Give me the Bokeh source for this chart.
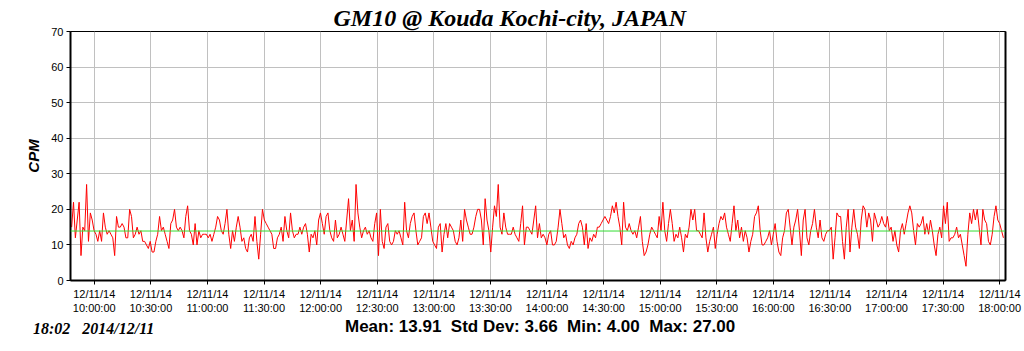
import pandas as pd
from bokeh.plotting import figure
from bokeh.layouts import column
from bokeh.models import Range1d, FixedTicker, DatetimeTickFormatter, Span, Div, LinearAxis
from bokeh.embed import file_html
from bokeh.resources import INLINE

# ---- data (CPM, one reading per minute) ----
cpm = (
    [15, 22, 12, 17, 22, 7, 15, 14, 27, 11, 19, 17, 14, 13, 11, 14, 11, 19, 15, 13, 14, 13,
     12, 7, 18, 15, 15, 16, 15, 12, 12, 20, 18, 12, 13, 15, 13, 14, 11, 11, 10, 9, 11, 8]
    + [8, 11, 13, 18, 14, 15, 13, 11, 9, 16, 17, 20, 15, 14, 15, 14, 12, 18, 21, 14, 13, 10,
       16, 10, 14, 12, 13, 13, 13, 12, 13, 11, 13, 15, 18, 17, 14, 13, 16, 20, 13, 9, 14, 11, 15]
    + [18, 15, 11, 12, 9, 8, 12, 13, 11, 18, 11, 6, 13, 20, 17, 16, 15, 14, 13, 9, 9, 12, 13,
       15, 11, 18, 14, 12, 19, 14, 12, 13, 13, 15, 13, 15, 16, 13, 8, 13, 12, 14, 10, 17, 19, 16]
    + [13, 18, 19, 14, 12, 11, 17, 12, 13, 15, 13, 11, 17, 23, 14, 17, 11, 27, 19, 15, 12, 14,
       15, 13, 14, 12, 11, 16, 19, 7, 20, 11, 9, 15, 16, 11, 10, 11, 14, 13, 14, 12, 10, 22, 14, 12]
    + [16, 18, 19, 14, 10, 11, 12, 18, 19, 16, 19, 15, 11, 10, 9, 15, 16, 8, 13, 16, 12, 16,
       15, 14, 11, 10, 12, 17, 11, 20, 17, 15, 13, 13, 15, 18, 20, 20, 17, 10, 23, 17, 14, 8, 15, 21]
    + [18, 27, 15, 13, 19, 15, 13, 13, 13, 15, 13, 12, 11, 16, 21, 10, 15, 15, 14, 13, 17, 21,
       12, 16, 12, 13, 12, 10, 13, 14, 10, 10, 11, 15, 20, 16, 12, 13, 10, 9, 11, 10, 12, 13, 16, 17]
    + [15, 10, 16, 9, 12, 11, 13, 12, 15, 15, 16, 17, 18, 17, 16, 18, 21, 19, 22, 18, 15, 10,
       22, 15, 14, 16, 14, 13, 14, 12, 15, 18, 11, 7, 8, 10, 13, 15, 14, 13, 12, 18, 14, 22, 14, 11]
    + [16, 20, 16, 11, 13, 12, 15, 12, 8, 13, 12, 15, 20, 17, 20, 14, 14, 13, 12, 19, 12, 8,
       11, 13, 15, 9, 13, 16, 18, 17, 19, 15, 13, 11, 16, 21, 14, 17, 12, 15, 11, 14, 12, 8, 11, 13]
    + [18, 19, 21, 14, 10, 10, 11, 12, 14, 10, 13, 16, 11, 8, 7, 12, 14, 19, 20, 15, 10, 15,
       17, 20, 14, 7, 17, 20, 12, 10, 14, 16, 20, 15, 12, 17, 12, 11, 13, 14, 14, 15, 6, 12, 19, 18]
    + [18, 11, 6, 15, 20, 8, 15, 20, 15, 13, 9, 17, 21, 20, 15, 19, 17, 11, 19, 17, 15, 16,
       18, 16, 15, 18, 14, 15, 11, 14, 10, 8, 14, 16, 13, 16, 19, 21, 19, 14, 10, 16, 15, 16, 18, 13]
    + [16, 13, 17, 14, 10, 7, 13, 15, 12, 21, 16, 22, 11, 12, 12, 13, 15, 12, 13, 10, 7, 4,
       13, 19, 16, 20, 17, 20, 15, 10, 20, 17, 16, 11, 10, 13, 18, 21, 17, 16, 14, 12]
)
first_time = "2014-12-11 09:48"
last_time = "2014-12-11 18:02"
times = pd.date_range(first_time, last_time, periods=len(cpm))
tick_times = pd.date_range("2014-12-11 10:00", "2014-12-11 18:00", freq="30min")
y_ticks = [0, 10, 20, 30, 40, 50, 60, 70]
mean_cpm = 13.91
title_text = "GM10 @ Kouda Kochi-city, JAPAN"
stamp_time = "18:02"
stamp_date = "2014/12/11"
stats_text = "Mean: 13.91\u00a0\u00a0Std Dev: 3.66\u00a0\u00a0Min: 4.00\u00a0\u00a0Max: 27.00"

W = 1024

# ---- main chart ----
p = figure(width=W, height=316, x_axis_type="datetime",
           output_backend="svg", toolbar_location=None,
           x_range=Range1d(pd.Timestamp("2014-12-11 09:47:24"), pd.Timestamp("2014-12-11 18:03:06")),
           y_range=Range1d(0, 70),
           min_border_left=70, min_border_right=19, min_border_top=31, min_border_bottom=35)
p.background_fill_color = "white"
p.border_fill_color = "white"
p.outline_line_color = "black"
p.outline_line_width = 1

p.title.text = title_text
p.title.text_font = "Liberation Serif"
p.title.text_font_style = "bold italic"
p.title.text_font_size = "24px"
p.title.text_color = "black"
p.title.align = "left"
p.title.offset = 263
p.title.standoff = 2

p.line(times, cpm, line_color="#ff0000", line_width=1)
p.add_layout(Span(location=mean_cpm, dimension="width", line_color="#33dd33", line_width=1))

p.xaxis.ticker = FixedTicker(ticks=[t.value / 1e6 for t in tick_times])
fmt = "%m/%d/%y\n%H:%M:%S"
p.xaxis.formatter = DatetimeTickFormatter(seconds=fmt, minsec=fmt, minutes=fmt, hourmin=fmt,
                                          hours=fmt, days=fmt, months=fmt, years=fmt,
                                          context=None)
p.yaxis.ticker = FixedTicker(ticks=y_ticks)
for ax in (p.xaxis, p.yaxis):
    ax.axis_line_color = "black"
    ax.axis_line_width = 2
    ax.major_tick_line_color = "black"
    ax.major_tick_in = 0
    ax.major_tick_out = 4
    ax.minor_tick_line_color = None
    ax.major_label_text_font = "Liberation Sans"
    ax.major_label_text_font_size = "11px"
    ax.major_label_text_color = "black"
    ax.major_label_standoff = 3
p.yaxis.axis_label = "CPM"
p.yaxis.axis_label_text_font = "Liberation Sans"
p.yaxis.axis_label_text_font_style = "bold italic"
p.yaxis.axis_label_text_font_size = "15px"
p.yaxis.axis_label_text_color = "black"
p.yaxis.axis_label_standoff = 6

# right-hand frame edge drawn as a bare axis line
right_edge = LinearAxis(ticker=FixedTicker(ticks=[]), axis_line_color="black",
                        axis_line_width=2, major_tick_line_color=None,
                        minor_tick_line_color=None, major_label_text_font_size="0px")
p.add_layout(right_edge, "right")

p.xgrid.grid_line_color = "#c0c0c0"
p.ygrid.grid_line_color = "#c0c0c0"

# ---- footer ----
footer_html = (
    '<div style="position:relative;width:1024px;height:35px;">'
    '<span style="position:absolute;left:33px;top:4px;line-height:17px;white-space:pre;'
    'font-family:\'Liberation Serif\';font-weight:bold;font-style:italic;font-size:16px;color:black;">'
    + stamp_time + '\u00a0\u00a0\u00a0' + stamp_date + '</span>'
    '<span style="position:absolute;left:345px;top:2px;line-height:18px;white-space:pre;'
    'font-family:\'Liberation Sans\';font-weight:bold;font-size:17px;color:black;">'
    + stats_text + '</span></div>'
)
footer = Div(text=footer_html, width=W, height=35, margin=0)

layout = column(p, footer, spacing=0)
open("out.html", "w").write(file_html(layout, INLINE))
